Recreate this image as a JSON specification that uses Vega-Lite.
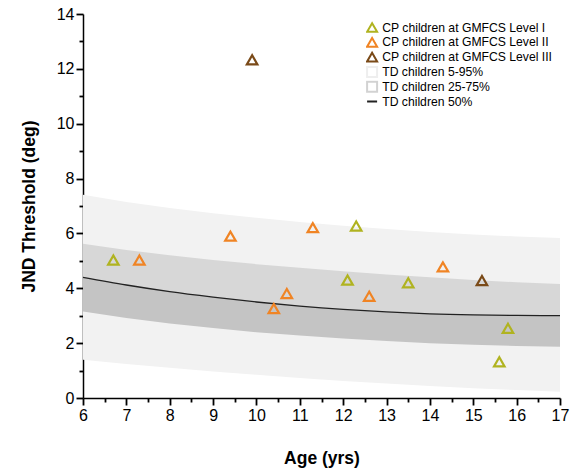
{
  "$schema": "https://vega.github.io/schema/vega-lite/v6.json",
  "width": 477,
  "height": 384,
  "autosize": {"type": "none"},
  "padding": {"left": 83, "top": 14, "right": 18, "bottom": 72},
  "background": "white",
  "config": {
    "view": {"stroke": null},
    "font": "Liberation Sans",
    "axis": {
      "ticks": true,
      "domainColor": "#000",
      "domainWidth": 1.5,
      "tickColor": "#000000",
      "tickWidth": 1.8,
      "tickOpacity": 1,
      "labelColor": "#000",
      "labelFont": "Liberation Sans",
      "labelFontSize": 16,
      "titleFont": "Liberation Sans",
      "titleFontSize": 17.5,
      "titleFontWeight": "bold",
      "titleColor": "#000",
      "grid": false
    }
  },
  "resolve": {"axis": {"x": "independent", "y": "independent"}},
  "datasets": {
    "curves": [
      {"age": 6, "p5": 1.39, "p25": 3.15, "p50": 4.40, "p75": 5.62, "p95": 7.41},
      {"age": 7, "p5": 1.24, "p25": 2.92, "p50": 4.12, "p75": 5.40, "p95": 7.15},
      {"age": 8, "p5": 1.10, "p25": 2.72, "p50": 3.88, "p75": 5.20, "p95": 6.93},
      {"age": 9, "p5": 0.97, "p25": 2.55, "p50": 3.68, "p75": 5.03, "p95": 6.74},
      {"age": 10, "p5": 0.85, "p25": 2.40, "p50": 3.50, "p75": 4.88, "p95": 6.57},
      {"age": 11, "p5": 0.73, "p25": 2.28, "p50": 3.35, "p75": 4.75, "p95": 6.42},
      {"age": 12, "p5": 0.62, "p25": 2.17, "p50": 3.23, "p75": 4.62, "p95": 6.28},
      {"age": 13, "p5": 0.53, "p25": 2.08, "p50": 3.14, "p75": 4.50, "p95": 6.16},
      {"age": 14, "p5": 0.44, "p25": 2.00, "p50": 3.07, "p75": 4.40, "p95": 6.05},
      {"age": 15, "p5": 0.36, "p25": 1.94, "p50": 3.03, "p75": 4.30, "p95": 5.96},
      {"age": 16, "p5": 0.29, "p25": 1.90, "p50": 3.01, "p75": 4.22, "p95": 5.89},
      {"age": 17, "p5": 0.23, "p25": 1.87, "p50": 3.00, "p75": 4.16, "p95": 5.83}
    ],
    "points": [
      {"age": 6.7, "jnd": 5.03, "group": "CP children at GMFCS Level I"},
      {"age": 12.3, "jnd": 6.27, "group": "CP children at GMFCS Level I"},
      {"age": 12.1, "jnd": 4.30, "group": "CP children at GMFCS Level I"},
      {"age": 13.5, "jnd": 4.20, "group": "CP children at GMFCS Level I"},
      {"age": 15.8, "jnd": 2.54, "group": "CP children at GMFCS Level I"},
      {"age": 15.6, "jnd": 1.32, "group": "CP children at GMFCS Level I"},
      {"age": 7.3, "jnd": 5.03, "group": "CP children at GMFCS Level II"},
      {"age": 9.4, "jnd": 5.90, "group": "CP children at GMFCS Level II"},
      {"age": 11.3, "jnd": 6.21, "group": "CP children at GMFCS Level II"},
      {"age": 10.7, "jnd": 3.81, "group": "CP children at GMFCS Level II"},
      {"age": 10.4, "jnd": 3.26, "group": "CP children at GMFCS Level II"},
      {"age": 12.6, "jnd": 3.71, "group": "CP children at GMFCS Level II"},
      {"age": 14.3, "jnd": 4.78, "group": "CP children at GMFCS Level II"},
      {"age": 9.9, "jnd": 12.33, "group": "CP children at GMFCS Level III"},
      {"age": 15.2, "jnd": 4.28, "group": "CP children at GMFCS Level III"}
    ]
  },
  "layer": [
    {
      "data": {"name": "curves"},
      "mark": {"type": "area", "color": "#f2f2f2"},
      "encoding": {
        "x": {
          "field": "age", "type": "quantitative",
          "scale": {"domain": [6, 17], "nice": false, "zero": false},
          "axis": {
            "orient": "bottom", "title": null, "labels": false, "domain": false, "ticks": true,
            "values": [6.5, 7.5, 8.5, 9.5, 10.5, 11.5, 12.5, 13.5, 14.5, 15.5, 16.5],
            "tickSize": 4
          }
        },
        "y": {
          "field": "p5", "type": "quantitative",
          "scale": {"domain": [0, 14], "nice": false},
          "axis": {
            "orient": "left", "title": null, "labels": false, "domain": false, "ticks": true,
            "values": [1, 3, 5, 7, 9, 11, 13],
            "tickSize": 4
          }
        },
        "y2": {"field": "p95"}
      }
    },
    {
      "data": {"name": "curves"},
      "mark": {"type": "area", "color": "#d7d7d7"},
      "encoding": {
        "x": {"field": "age", "type": "quantitative", "axis": null},
        "y": {"field": "p50", "type": "quantitative", "axis": null},
        "y2": {"field": "p75"}
      }
    },
    {
      "data": {"name": "curves"},
      "mark": {"type": "area", "color": "#c4c4c4"},
      "encoding": {
        "x": {"field": "age", "type": "quantitative", "axis": null},
        "y": {"field": "p25", "type": "quantitative", "axis": null},
        "y2": {"field": "p50"}
      }
    },
    {
      "data": {"name": "curves"},
      "mark": {"type": "line", "color": "#222", "strokeWidth": 1.3, "interpolate": "monotone"},
      "encoding": {
        "x": {"field": "age", "type": "quantitative", "axis": null},
        "y": {"field": "p50", "type": "quantitative", "axis": null}
      }
    },
    {
      "data": {"name": "points"},
      "mark": {"type": "point", "filled": false, "strokeWidth": 2.2, "size": 110, "opacity": 1},
      "encoding": {
        "x": {
          "field": "age", "type": "quantitative", "title": "Age (yrs)",
          "scale": {"domain": [6, 17], "nice": false, "zero": false},
          "axis": {
            "orient": "bottom", "ticks": true,
            "values": [6, 7, 8, 9, 10, 11, 12, 13, 14, 15, 16, 17],
            "tickSize": 7,
            "labelPadding": 2,
            "labelFlush": false,
            "titlePadding": 26
          }
        },
        "y": {
          "field": "jnd", "type": "quantitative", "title": "JND Threshold (deg)",
          "scale": {"domain": [0, 14], "nice": false},
          "axis": {
            "orient": "left", "ticks": true,
            "values": [0, 2, 4, 6, 8, 10, 12, 14],
            "tickSize": 7,
            "labelPadding": 2,
            "titlePadding": 18
          }
        },
        "color": {
          "field": "group", "type": "nominal",
          "scale": {
            "domain": ["CP children at GMFCS Level I", "CP children at GMFCS Level II", "CP children at GMFCS Level III", "TD children 5-95%", "TD children 25-75%", "TD children 50%"],
            "range": ["#b0b320", "#f08424", "#7a4a18", "#eeeeee", "#d2d2d2", "#222222"]
          },
          "legend": {
            "title": null,
            "orient": "top-right",
            "offset": 7,
            "labelFont": "Liberation Sans",
            "labelFontSize": 12.2,
            "labelColor": "#000",
            "labelLimit": 300,
            "symbolSize": 100,
            "symbolStrokeWidth": 2,
            "rowPadding": 1.8,
            "clipHeight": 13,
            "labelOffset": 4,
            "encode": {
              "symbols": {
                "update": {
                  "fill": {"signal": "datum.value === 'TD children 5-95%' ? '#eeeeee' : datum.value === 'TD children 25-75%' ? '#d2d2d2' : 'transparent'"},
                  "stroke": {"signal": "datum.value === 'CP children at GMFCS Level I' ? '#b0b320' : datum.value === 'CP children at GMFCS Level II' ? '#f08424' : datum.value === 'CP children at GMFCS Level III' ? '#7a4a18' : datum.value === 'TD children 50%' ? '#222222' : 'transparent'"},
                  "strokeWidth": {"signal": "datum.value === 'TD children 50%' ? 1.3 : 2"}
                }
              }
            }
          }
        },
        "shape": {
          "field": "group", "type": "nominal",
          "scale": {
            "domain": ["CP children at GMFCS Level I", "CP children at GMFCS Level II", "CP children at GMFCS Level III", "TD children 5-95%", "TD children 25-75%", "TD children 50%"],
            "range": ["triangle-up", "triangle-up", "triangle-up", "square", "square", "stroke"]
          },
          "legend": {"title": null}
        }
      }
    }
  ]
}
